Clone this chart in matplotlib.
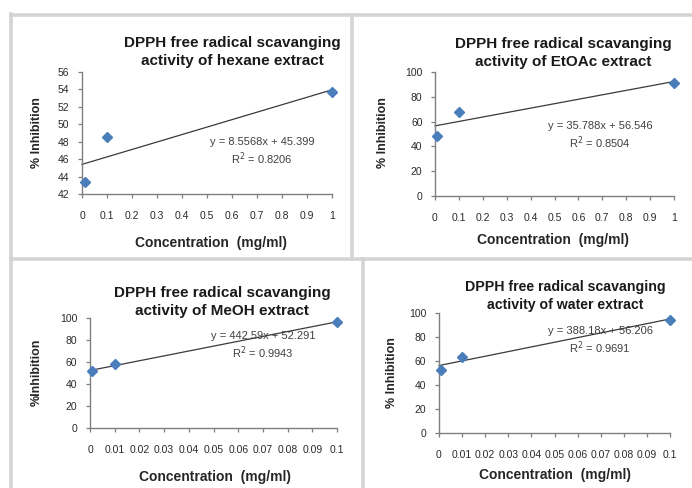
import matplotlib
matplotlib.use("Agg")
import matplotlib.pyplot as plt
from matplotlib.lines import Line2D
from matplotlib.ticker import FuncFormatter

plt.rcParams["font.family"] = ["Liberation Sans", "DejaVu Sans"]

W, H = 692, 488

# data
x_top = [0.01, 0.1, 1.0]
x_bottom = [0.001, 0.01, 0.1]
hexane = [43.4, 48.5, 53.7]
etoac = [48.5, 68.0, 91.0]
meoh = [51.5, 58.5, 96.0]
water = [52.5, 63.5, 94.0]

slopes = [8.5568, 35.788, 442.59, 388.18]
intercepts = [45.399, 56.546, 52.291, 56.206]
r2 = ["0.8206", "0.8504", "0.9943", "0.9691"]
names = ["hexane", "EtOAc", "MeOH", "water"]
ylabels = ["% Inhibition", "% Inhibition", "%Inhibition", "% Inhibition"]

panels = [
    # axes box (px): left, right, top, bottom ; y range ; x range
    dict(x=x_top, y=hexane, box=(82, 332, 72, 194), ylim=(42, 56), ystep=2, xlim=(0, 1), xstep=0.1,
         title=(232, 52, 11), ylab=(37, 133), xlab=(211, 243), eq=(262, 137)),
    dict(x=x_top, y=etoac, box=(435, 674, 72, 196), ylim=(0, 100), ystep=20, xlim=(0, 1), xstep=0.1,
         title=(563, 53, 11), ylab=(383, 133), xlab=(553, 240), eq=(600, 121)),
    dict(x=x_bottom, y=meoh, box=(90, 337, 318, 428), ylim=(0, 100), ystep=20, xlim=(0, 0.1), xstep=0.01,
         title=(222, 302, 11), ylab=(37, 372), xlab=(215, 477), eq=(263, 331)),
    dict(x=x_bottom, y=water, box=(439, 670, 313, 433), ylim=(0, 100), ystep=20, xlim=(0, 0.1), xstep=0.01,
         title=(565, 296, 10.2), ylab=(392, 373), xlab=(555, 475), eq=(600, 326)),
]

fig = plt.figure(figsize=(W / 100, H / 100), dpi=100)
fig.patch.set_facecolor("white")

# panel frames
border = "#d4d4d4"
frame_lines = [
    ((11, 11), (14, 488)),
    ((11, 692), (15, 15)),
    ((352, 352), (15, 259)),
    ((11, 692), (259, 259)),
    ((363, 363), (259, 488)),
]
for xs, ys in frame_lines:
    fig.add_artist(Line2D([v / W for v in xs], [1 - v / H for v in ys],
                          color=border, lw=2.6, transform=fig.transFigure))

fmt = FuncFormatter(lambda v, p: f"{v:g}")

for i, p in enumerate(panels):
    l, r, t, b = p["box"]
    ax = fig.add_axes([l / W, 1 - b / H, (r - l) / W, (b - t) / H])
    ax.set_facecolor("none")
    ax.set_xlim(*p["xlim"])
    ax.set_ylim(*p["ylim"])
    n = int(round((p["xlim"][1] - p["xlim"][0]) / p["xstep"]))
    ax.set_xticks([round(p["xlim"][0] + k * p["xstep"], 3) for k in range(n + 1)])
    m = int(round((p["ylim"][1] - p["ylim"][0]) / p["ystep"]))
    ax.set_yticks([p["ylim"][0] + k * p["ystep"] for k in range(m + 1)])
    ax.xaxis.set_major_formatter(fmt)
    for s in ["top", "right"]:
        ax.spines[s].set_visible(False)
    for s in ["left", "bottom"]:
        ax.spines[s].set_color("#7f7f7f")
        ax.spines[s].set_linewidth(1.0)
    ax.tick_params(direction="out", length=3, width=0.9, color="#7f7f7f",
                   labelsize=7.5, labelcolor="#2a2a2a", pad=6)
    ax.tick_params(axis="x", pad=9)

    # trendline
    x0, x1 = 0, max(p["x"])
    ax.plot([x0, x1], [slopes[i] * x0 + intercepts[i], slopes[i] * x1 + intercepts[i]],
            color="#3a3a3a", lw=0.9, zorder=2, clip_on=False)
    ax.plot(p["x"], p["y"], linestyle="none", marker="D", ms=5.5, color="#4a7ebb",
            zorder=3, clip_on=False)

    tx, ty, ts = p["title"]
    fig.text(tx / W, 1 - ty / H, f"DPPH free radical scavanging\nactivity of {names[i]} extract",
             ha="center", va="center", fontsize=ts, fontweight="bold", color="#1a1a1a",
             linespacing=1.35)
    yx, yy = p["ylab"]
    fig.text(yx / W, 1 - yy / H, ylabels[i], rotation=90, ha="center", va="center",
             fontsize=9, fontweight="bold", color="#262626")
    xx, xy = p["xlab"]
    fig.text(xx / W, 1 - xy / H, "Concentration  (mg/ml)", ha="center", va="center",
             fontsize=10, fontweight="bold", color="#262626")
    ex, ey = p["eq"]
    fig.text(ex / W, 1 - ey / H, f"y = {slopes[i]:g}x + {intercepts[i]:g}\nR$^2$ = {r2[i]}",
             ha="center", va="top", fontsize=8, color="#404040", linespacing=1.25)

fig.savefig("out.png", dpi=100, facecolor="white")
